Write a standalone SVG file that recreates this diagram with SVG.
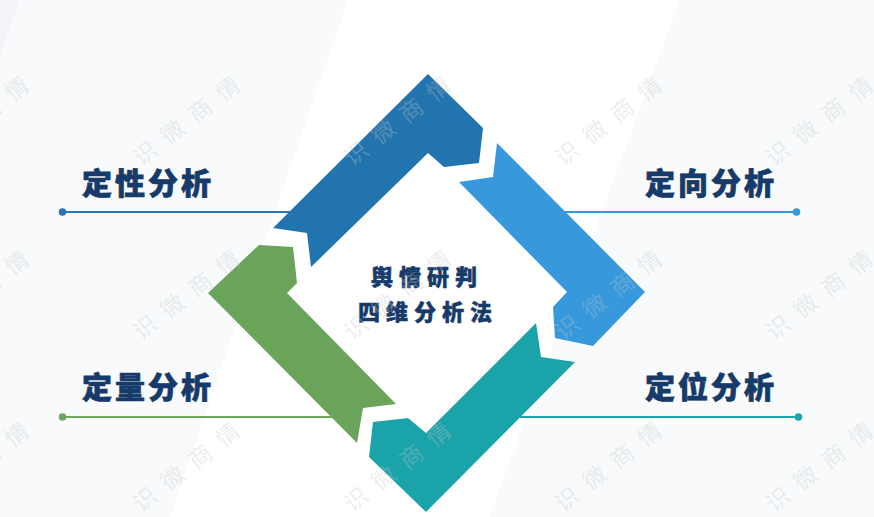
<svg xmlns="http://www.w3.org/2000/svg" xmlns:xlink="http://www.w3.org/1999/xlink" width="874" height="517" viewBox="0 0 874 517">
  <style>
    .label { font-family: "Noto Sans CJK SC", "Noto Sans", sans-serif; font-weight: 900; font-size: 30px; fill: #163a6a; stroke: #163a6a; stroke-width: 0.7px; letter-spacing: 3px; }
    .center { font-family: "Noto Sans CJK SC", "Noto Sans", sans-serif; font-weight: 900; font-size: 22px; fill: #163a6a; stroke: #163a6a; stroke-width: 0.5px; letter-spacing: 6px; }
    .wm { font-family: "Noto Sans CJK SC", "Noto Sans", sans-serif; font-size: 23px; fill: #c4c8cc; fill-opacity: 0.32; letter-spacing: 12px; }
    .line { stroke-width: 2.2; fill: none; }
  </style>
  <defs>
    <text id="wmtext" class="wm" text-anchor="middle" dominant-baseline="central">识微商情</text>
  </defs>

  <!-- background -->
  <rect x="0" y="0" width="874" height="517" fill="#f8fafb"/>
  <polygon points="348,0 680,0 489,517 170,517" fill="#ffffff"/>
  <polygon points="0,0 20,0 0,55" fill="#f2f4f8"/>

  <!-- connectors -->
  <g id="connectors">
    <line class="line" x1="62" y1="212" x2="300" y2="212" stroke="#2e74b5"/>
    <circle cx="62.5" cy="212" r="3.8" fill="#2e74b5"/>
    <line class="line" x1="560" y1="212" x2="796" y2="212" stroke="#3799dc"/>
    <circle cx="796.5" cy="212" r="3.8" fill="#3799dc"/>
    <line class="line" x1="62" y1="417" x2="340" y2="417" stroke="#6ca85b"/>
    <circle cx="62.5" cy="417" r="3.8" fill="#6ca85b"/>
    <line class="line" x1="515" y1="417" x2="798" y2="417" stroke="#1ca5ad"/>
    <circle cx="798.5" cy="417" r="3.8" fill="#1ca5ad"/>
  </g>

  <!-- cycle segments -->
  <g id="seg-qualitative">
    <polygon points="428,74 483,128 479,163 444,167 428,153 311,267 307,233 273,228" fill="#2274ae"/>
  </g>
  <g id="seg-direction">
    <polygon points="497,143 645,292 593,346 555,338 553,307 567,292 459,182 493,177" fill="#3798db"/>
  </g>
  <g id="seg-position">
    <polygon points="536,323 541,357 575,362 426,512 369,457 373,422 408,418 426,433" fill="#1ba3aa"/>
  </g>
  <g id="seg-quantitative">
    <polygon points="259,245 293,247 297,283 287,293 396,404 363,408 357,443 208,293" fill="#6aa35a"/>
  </g>

  <!-- nodes (labels) -->
  <g id="node-center">
    <text class="center" x="371" y="285">舆情研判</text>
    <text class="center" x="358" y="320">四维分析法</text>
  </g>
  <g id="node-dingxing">
    <text class="label" x="82" y="194">定性分析</text>
  </g>
  <g id="node-dingxiang">
    <text class="label" x="645" y="194">定向分析</text>
  </g>
  <g id="node-dingliang">
    <text class="label" x="82" y="398">定量分析</text>
  </g>
  <g id="node-dingwei">
    <text class="label" x="645" y="398">定位分析</text>
  </g>

  <!-- watermarks -->
  <g id="watermarks">
    <use xlink:href="#wmtext" transform="translate(-21,116) rotate(-38)"/>
    <use xlink:href="#wmtext" transform="translate(190,116) rotate(-38)"/>
    <use xlink:href="#wmtext" transform="translate(401,116) rotate(-38)"/>
    <use xlink:href="#wmtext" transform="translate(612,116) rotate(-38)"/>
    <use xlink:href="#wmtext" transform="translate(823,116) rotate(-38)"/>
    <use xlink:href="#wmtext" transform="translate(-21,290) rotate(-38)"/>
    <use xlink:href="#wmtext" transform="translate(190,290) rotate(-38)"/>
    <use xlink:href="#wmtext" transform="translate(401,290) rotate(-38)"/>
    <use xlink:href="#wmtext" transform="translate(612,290) rotate(-38)"/>
    <use xlink:href="#wmtext" transform="translate(823,290) rotate(-38)"/>
    <use xlink:href="#wmtext" transform="translate(-21,462) rotate(-38)"/>
    <use xlink:href="#wmtext" transform="translate(190,462) rotate(-38)"/>
    <use xlink:href="#wmtext" transform="translate(401,462) rotate(-38)"/>
    <use xlink:href="#wmtext" transform="translate(612,462) rotate(-38)"/>
    <use xlink:href="#wmtext" transform="translate(823,462) rotate(-38)"/>
  </g>
</svg>
